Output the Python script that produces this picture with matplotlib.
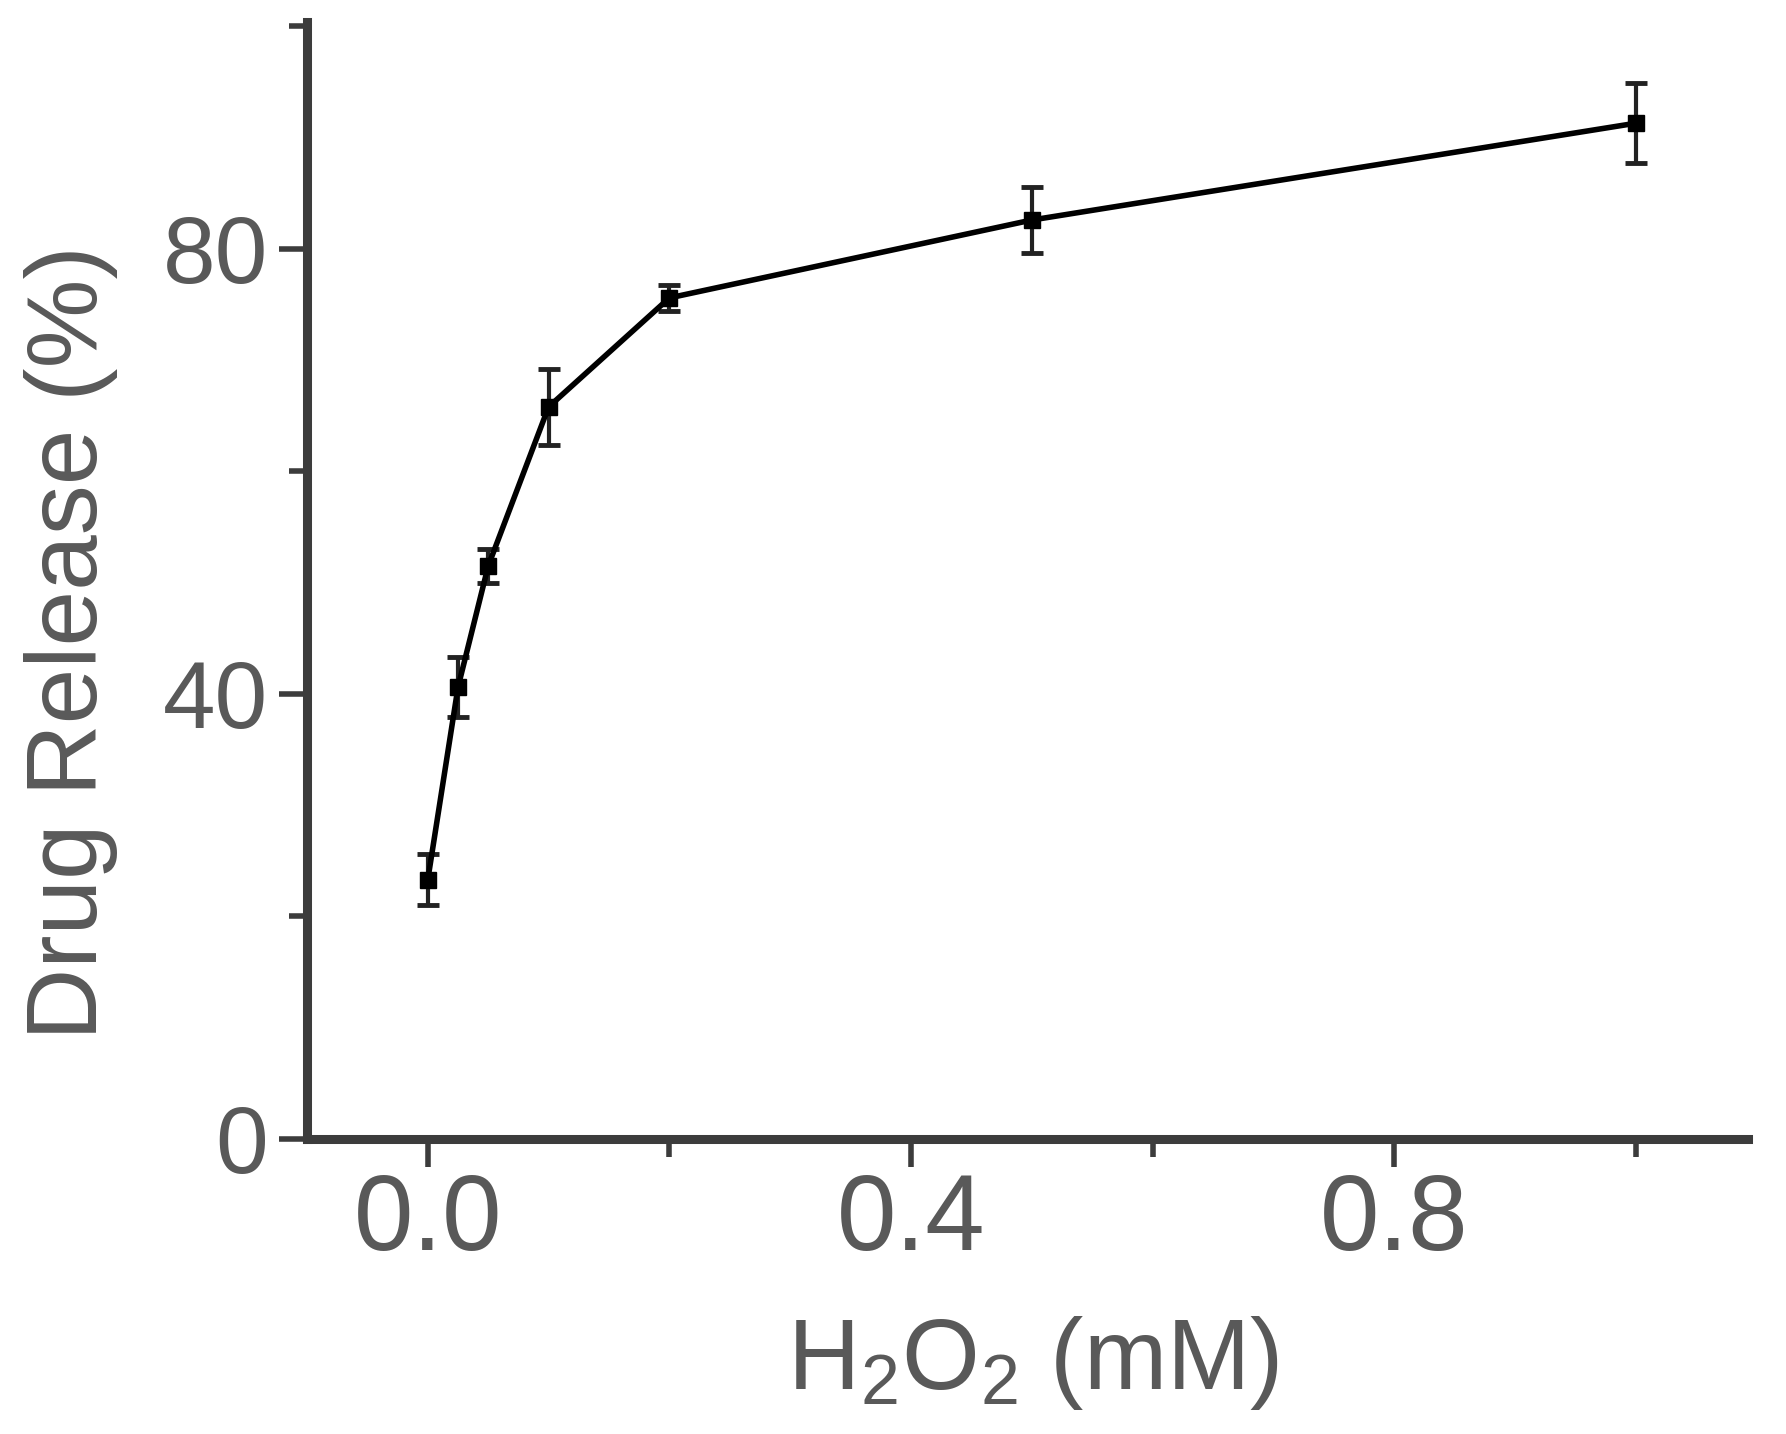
import matplotlib
matplotlib.use("Agg")
import matplotlib.pyplot as plt
from matplotlib.ticker import FixedLocator

plt.rcParams['font.family'] = ['Liberation Sans', 'DejaVu Sans']
plt.rcParams['mathtext.default'] = 'regular'

# Data
h2o2_mM = [0.0, 0.025, 0.05, 0.1, 0.2, 0.5, 1.0]
release_pct = [23.3, 40.6, 51.5, 65.8, 75.6, 82.6, 91.3]
release_err = [2.3, 2.7, 1.5, 3.4, 1.2, 3.0, 3.6]

x_major = [0.0, 0.4, 0.8]
x_minor = [0.2, 0.6, 1.0]
x_labels = ["0.0", "0.4", "0.8"]
y_major = [0, 40, 80]
y_minor = [20, 60, 100]
y_labels = ["0", "40", "80"]

W, H = 1786, 1434
fig = plt.figure(figsize=(W / 100, H / 100), dpi=100)
ax = fig.add_axes([307 / W, 1 - 1139 / H, 1441 / W, 1117 / H])

txt_col = '#595959'
spine_col = '#3c3c3c'

ax.errorbar(h2o2_mM, release_pct, yerr=release_err, color='black', lw=4,
            marker='s', markersize=12, ecolor='#222222', elinewidth=3,
            capsize=8, capthick=3.5, zorder=3)

ax.set_xlim(-0.1, 1.093)
ax.set_ylim(0, 100.4)

for s in ['top', 'right']:
    ax.spines[s].set_visible(False)
for s in ['left', 'bottom']:
    ax.spines[s].set_linewidth(6.5)
    ax.spines[s].set_color(spine_col)
    ax.spines[s].set_capstyle('projecting')

ax.xaxis.set_major_locator(FixedLocator(x_major))
ax.xaxis.set_minor_locator(FixedLocator(x_minor))
ax.set_xticklabels(x_labels)
ax.yaxis.set_major_locator(FixedLocator(y_major))
ax.yaxis.set_minor_locator(FixedLocator(y_minor))
ax.set_yticklabels(y_labels)

ax.tick_params(which='major', direction='out', length=20, width=4, color=spine_col,
               labelcolor=txt_col)
ax.tick_params(which='minor', direction='out', length=13, width=4, color=spine_col)
ax.tick_params(axis='y', which='major', pad=8, labelsize=68)
ax.tick_params(axis='x', which='major', pad=4, labelsize=77)

fig.text(71 / W, 1 - 643 / H, 'Drug Release (%)', rotation=90, ha='center', va='center',
         fontsize=72, color=txt_col)
fig.text(1033 / W, 1 - 1363 / H, r'H$_2$O$_2$ (mM)', ha='center', va='center',
         fontsize=72, color=txt_col)

fig.savefig('out.png', dpi=100, facecolor='white')
